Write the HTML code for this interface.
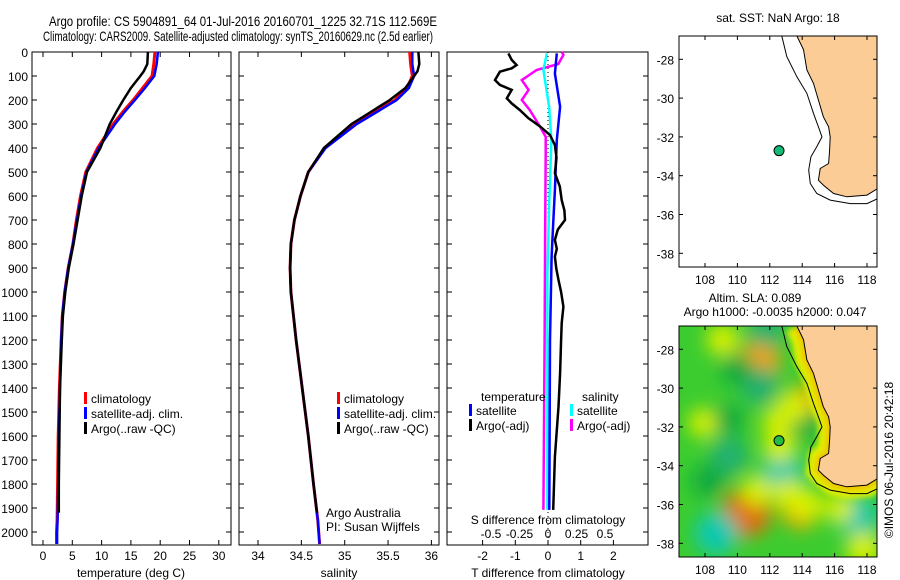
<!DOCTYPE html>
<html><head><meta charset="utf-8"><style>
html,body{margin:0;padding:0;background:#fff}
svg{display:block;font-family:"Liberation Sans",sans-serif}
</style></head><body>
<svg id="fig" width="900" height="580" viewBox="0 0 900 580" xmlns="http://www.w3.org/2000/svg">
<defs>
<filter id="blur" x="-50%" y="-50%" width="200%" height="200%"><feGaussianBlur stdDeviation="9"/></filter>
<filter id="blur2" x="-50%" y="-50%" width="200%" height="200%"><feGaussianBlur stdDeviation="3"/></filter>
<clipPath id="clipMap1"><rect x="679" y="36" width="198" height="231"/></clipPath>
<clipPath id="clipMap2"><rect x="679" y="326" width="198" height="231"/></clipPath>
</defs>
<text x="49" y="26" font-size="14" textLength="388" lengthAdjust="spacingAndGlyphs">Argo profile: CS 5904891_64 01-Jul-2016 20160701_1225 32.71S 112.569E</text>
<text x="43" y="41" font-size="14" textLength="390" lengthAdjust="spacingAndGlyphs">Climatology: CARS2009. Satellite-adjusted climatology: synTS_20160629.nc (2.5d earlier)</text>
<g id="g"></g>
</svg>
<script>
// ---------- data ----------
const depthTicks = [0,100,200,300,400,500,600,700,800,900,1000,1100,1200,1300,1400,1500,1600,1700,1800,1900,2000];
const tempTicks = [0,5,10,15,20,25,30];
const salTicks = [34,34.5,35,35.5,36];
const salTickLabels = ["34","34.5","35","35.5","36"];
const tdiffTicks = [-2,-1,0,1,2];
const sdiffTicks = [-0.5,-0.25,0,0.25,0.5];
const sdiffTickLabels = ["-0.5","-0.25","0","0.25","0.5"];

const climDepth = [0,50,100,150,200,250,300,400,500,600,700,800,900,1000,1100,1200,1400,1600,1800,1950,2000,2050];
const climTemp  = [19.1,18.9,18.6,17.0,15.4,13.6,12.0,9.3,7.3,6.4,5.7,5.1,4.3,3.7,3.3,3.1,2.8,2.6,2.5,2.4,2.3,2.3];
const satTemp   = [19.6,19.4,19.0,17.4,15.7,13.9,12.3,9.5,7.4,6.5,5.8,5.1,4.3,3.7,3.3,3.1,2.9,2.7,2.6,2.5,2.4,2.4];
const argoDepth = [0,50,80,100,150,200,250,300,400,500,600,700,800,900,1000,1100,1200,1400,1600,1800,1920];
const argoTemp  = [17.9,17.8,17.2,16.6,15.0,13.7,12.5,11.4,9.8,7.5,6.6,5.9,5.2,4.4,3.8,3.4,3.2,2.9,2.8,2.7,2.7];

const climSal = [35.75,35.76,35.78,35.72,35.58,35.35,35.12,34.77,34.58,34.49,34.42,34.38,34.37,34.38,34.41,34.44,34.51,34.58,34.64,34.69,34.70,34.71];
const satSal  = [35.78,35.78,35.80,35.74,35.60,35.37,35.14,34.78,34.58,34.49,34.42,34.38,34.37,34.38,34.41,34.44,34.51,34.58,34.64,34.69,34.70,34.71];
const argoSal = [35.85,35.86,35.84,35.80,35.70,35.52,35.30,35.08,34.76,34.58,34.49,34.42,34.38,34.37,34.38,34.41,34.44,34.51,34.58,34.64,34.68];

const tdDepth = [6,33,54,68,82,117,137,158,193,214,242,276,311,346,388,440,505,560,617,660,700,740,783,820,853,900,950,1000,1061,1130,1200,1338,1478,1686,1908];
const tdArgo  = [-1.21,-1.11,-0.96,-1.11,-1.47,-1.62,-1.47,-1.11,-1.26,-1.11,-0.86,-0.6,-0.24,0.06,0.21,0.26,0.21,0.36,0.42,0.5,0.52,0.3,0.21,0.27,0.21,0.25,0.32,0.4,0.47,0.42,0.40,0.37,0.32,0.21,0.16];
const tsDepth = [6,90,228,367,575,714,853,1200,1908];
const tdSat   = [0.27,0.21,0.37,0.27,0.21,0.16,0.11,0.06,0.04];
const sdArgoDepth = [0,12,50,75,117,158,200,242,311,353,422,783,1200,1908];
const sdArgo  = [0.12,0.135,0.09,-0.1,-0.23,-0.17,-0.23,-0.16,-0.07,-0.02,-0.02,-0.025,-0.03,-0.04];
const ssDepth = [6,75,228,367,644,922,1908];
const sdSat   = [-0.01,-0.04,0.01,0.03,0.01,-0.005,-0.005];

const lonTicks = [108,110,112,114,116,118];
const latTicks = [-28,-30,-32,-34,-36,-38];
const coastLon = [113.67,114.08,114.29,114.70,115.0,115.3,115.63,115.73,115.69,115.63,115.11,115.0,115.32,115.94,116.76,118.0,118.66];
const coastLat = [-26.8,-27.5,-28.55,-29.24,-30.1,-30.96,-31.48,-32.0,-32.68,-33.37,-33.63,-34.23,-34.5,-34.92,-35.09,-35.0,-34.66];
const contLon = [112.74,113.05,113.67,114.29,114.7,115.0,115.22,114.9,114.54,114.4,114.5,114.9,115.73,116.97,118.0,118.66];
const contLat = [-26.8,-27.86,-28.9,-29.76,-30.79,-31.48,-32.0,-32.5,-33.03,-33.71,-34.4,-34.92,-35.26,-35.44,-35.44,-35.18];
const argoLon = 112.57, argoLat = -32.71;
const blobLon = [111.4,111.4,111.8,109.1,114.1,110.6,113.9,109.5,112.8,108.7,117.4,112.6,107.9,114.1,109.5,113.2,117.8,112.6,113.4,111.2,114.3,116.3,110.0,108.2];
const blobLat = [-28.55,-29.9,-27.0,-27.5,-30.8,-36.4,-36.3,-33.5,-34.4,-37.5,-36.6,-31.8,-31.8,-31.8,-31.6,-35.5,-38.3,-33.0,-31.0,-35.3,-36.0,-36.2,-29.0,-34.8];
const blobVal = [0.6,-0.5,-0.4,0.3,0.5,0.9,0.5,-0.5,-0.6,-0.7,-0.6,0.35,0.2,-0.3,-0.2,0.3,0.4,0.3,0.3,0.25,0.3,0.2,-0.3,-0.3];

// ---------- helpers ----------
const NS="http://www.w3.org/2000/svg";
const G=document.getElementById('g');
function mk(tag,attrs,parent){const e=document.createElementNS(NS,tag);for(const k in attrs)e.setAttribute(k,attrs[k]);(parent||G).appendChild(e);return e;}
function txt(x,y,s,size,anchor,parent){const t=mk('text',{x:x,y:y,'font-size':size||12,'text-anchor':anchor||'middle'},parent);t.textContent=s;return t;}
const yD = d => 52 + d*0.24;
const xT = v => 43 + v*5.86;
const xS = v => 258 + (v-34)*86.7;
const xTD = v => 548 + v*32.7;
const xSD = v => 548 + v*114;
const mapX = lon => 705 + (lon-108)*16.2;
const mapY = (lat,top) => top + 23.3 + (-28-lat)*19.4;

function frame(x0,x1,name){
  const r=mk('rect',{x:x0,y:52,width:x1-x0,height:493,fill:'none',stroke:'#000','stroke-width':1});
  
  
  depthTicks.forEach(d=>{mk('line',{x1:x0,x2:x0+5,y1:yD(d),y2:yD(d),stroke:'#000'});mk('line',{x1:x1-5,x2:x1,y1:yD(d),y2:yD(d),stroke:'#000'});});
}
function line(depths,vals,xf,color,w,name){
  const pts=depths.map((d,i)=>xf(vals[i]).toFixed(1)+','+yD(d).toFixed(1)).join(' ');
  const p=mk('polyline',{points:pts,fill:'none',stroke:color,'stroke-width':w,'stroke-linejoin':'miter'});
  
  
}
function legendEntry(x,y,color,label,name){
  const g=mk('g',{});
  
  
  if(color) mk('rect',{x:x,y:y-11,width:3,height:12,fill:color},g);
  txt(x+7,y,label,12,'start',g);
}

// ---------- panel 1: temperature ----------
frame(32,231,'temperature-panel-frame');
depthTicks.forEach(d=>{txt(28,yD(d)+5,String(d),12,'end');});
tempTicks.forEach(v=>{mk('line',{x1:xT(v),x2:xT(v),y1:545,y2:540,stroke:'#000'});mk('line',{x1:xT(v),x2:xT(v),y1:52,y2:57,stroke:'#000'});txt(xT(v),560,String(v),12);});
txt(131,577,'temperature (deg C)',12);
line(climDepth,climTemp,xT,'#ff0000',3,'temp-climatology-line');
line(climDepth,satTemp,xT,'#0000ff',2.5,'temp-satellite-line');
line(argoDepth,argoTemp,xT,'#000000',2.5,'temp-argo-line');
legendEntry(84,403,'#ff0000','climatology','legend-climatology');
legendEntry(84,418,'#0000ff','satellite-adj. clim.','legend-satellite');
legendEntry(84,433,'#000000','Argo(..raw -QC)','legend-argo');

// ---------- panel 2: salinity ----------
frame(239,439,'salinity-panel-frame');
salTicks.forEach((v,i)=>{mk('line',{x1:xS(v),x2:xS(v),y1:545,y2:540,stroke:'#000'});mk('line',{x1:xS(v),x2:xS(v),y1:52,y2:57,stroke:'#000'});txt(xS(v),560,salTickLabels[i],12);});
txt(339,577,'salinity',12);
line(climDepth,climSal,xS,'#ff0000',3,'sal-climatology-line');
line(climDepth,satSal,xS,'#0000ff',2.5,'sal-satellite-line');
line(argoDepth,argoSal,xS,'#000000',2.5,'sal-argo-line');
legendEntry(337,403,'#ff0000','climatology','legend-sal-climatology');
legendEntry(337,418,'#0000ff','satellite-adj. clim.','legend-sal-satellite');
legendEntry(337,433,'#000000','Argo(..raw -QC)','legend-sal-argo');
txt(326,517,'Argo Australia',12,'start');
txt(326,531,'PI: Susan Wijffels',12,'start');

// ---------- panel 3: differences ----------
frame(447,648,'difference-panel-frame');
mk('line',{x1:548,x2:548,y1:52,y2:545,stroke:'#000','stroke-dasharray':'1,3'});
tdiffTicks.forEach(v=>{mk('line',{x1:xTD(v),x2:xTD(v),y1:545,y2:540,stroke:'#000'});txt(xTD(v),560,String(v),12);});
txt(548,577,'T difference from climatology',12);
txt(548,524,'S difference from climatology',12);
sdiffTicks.forEach((v,i)=>{txt(xSD(v),538,sdiffTickLabels[i],12);});
line(sdArgoDepth,sdArgo,xSD,'#ff00ff',2.5,'s-diff-argo-line');
line(ssDepth,sdSat,xSD,'#00ffff',2.5,'s-diff-satellite-line');
line(tsDepth,tdSat,xTD,'#0000ff',2.5,'t-diff-satellite-line');
line(tdDepth,tdArgo,xTD,'#000000',2.5,'t-diff-argo-line');
legendEntry(474,401,null,'temperature','legend-temperature-header');
legendEntry(469,415,'#0000ff','satellite','legend-t-satellite');
legendEntry(469,430,'#000000','Argo(-adj)','legend-t-argo');
legendEntry(575,401,null,'salinity','legend-salinity-header');
legendEntry(570,415,'#00ffff','satellite','legend-s-satellite');
legendEntry(570,430,'#ff00ff','Argo(-adj)','legend-s-argo');

// ---------- maps ----------
function coastPts(top){return coastLon.map((l,i)=>mapX(l).toFixed(1)+','+mapY(coastLat[i],top).toFixed(1));}
function contPts(top){return contLon.map((l,i)=>mapX(l).toFixed(1)+','+mapY(contLat[i],top).toFixed(1)).join(' ');}
function blobColor(v){
  if(v>0.75) return '#e07010';
  if(v>0.45) return '#f0a010';
  if(v>0.15) return '#d8f000';
  if(v<-0.55) return '#10c8b0';
  if(v<-0.35) return '#20b070';
  return '#10a840';
}
function drawMap(top,clip,name,heat){
  const g=mk('g',{'clip-path':'url(#'+clip+')'});
  
  
  mk('rect',{x:679,y:top,width:198,height:231,fill:heat?'#3ccc30':'#fff'},g);
  if(heat){
    const bg=mk('g',{filter:'url(#blur)'},g);
    blobLon.forEach((l,i)=>{
      const c=mk('circle',{cx:mapX(l),cy:mapY(blobLat[i],top),r:12+Math.abs(blobVal[i])*14,fill:blobColor(blobVal[i])},bg);
      
      
    });
    const bb=mk('g',{filter:'url(#blur2)'},g);
    mk('polyline',{points:coastPts(top).join(' '),fill:'none',stroke:'#e0f000','stroke-width':24},bb);
    mk('polyline',{points:coastPts(top).join(' '),fill:'none',stroke:'#f0c000','stroke-width':8},bb);
  }
  const landPts=[...coastPts(top), '880,'+mapY(-34.66,top).toFixed(1), '880,'+(top-2), mapX(113.67).toFixed(1)+','+(top-2)];
  const lp=mk('polygon',{points:landPts.join(' '),fill:'#fccc96',stroke:'#000','stroke-width':1},g);
  
  
  mk('polyline',{points:contPts(top),fill:'none',stroke:'#000','stroke-width':1},g);
  const dot=mk('circle',{cx:mapX(argoLon),cy:mapY(argoLat,top),r:5,fill:heat?'#22bb44':'#11bb77',stroke:'#000','stroke-width':1},g);
  
  
  mk('rect',{x:679,y:top,width:198,height:231,fill:'none',stroke:'#000'});
  lonTicks.forEach(l=>{const x=mapX(l);mk('line',{x1:x,x2:x,y1:top,y2:top+4,stroke:'#000'});mk('line',{x1:x,x2:x,y1:top+231,y2:top+227,stroke:'#000'});txt(x,top+248,String(l),12);});
  latTicks.forEach(l=>{const y=mapY(l,top);mk('line',{x1:679,x2:683,y1:y,y2:y,stroke:'#000'});mk('line',{x1:877,x2:873,y1:y,y2:y,stroke:'#000'});txt(674,y+5,String(l),12,'end');});
}
drawMap(36,'clipMap1','sst-map',false);
drawMap(326,'clipMap2','sla-map',true);
txt(778,22,'sat. SST: NaN Argo: 18',12);
txt(755,302,'Altim. SLA: 0.089',12);
txt(775,316,'Argo h1000: -0.0035 h2000: 0.047',12);
const cr=txt(0,0,'©IMOS 06-Jul-2016 20:42:18',12);
cr.setAttribute('transform','translate(893,460) rotate(-90)');


</script>
</body></html>
